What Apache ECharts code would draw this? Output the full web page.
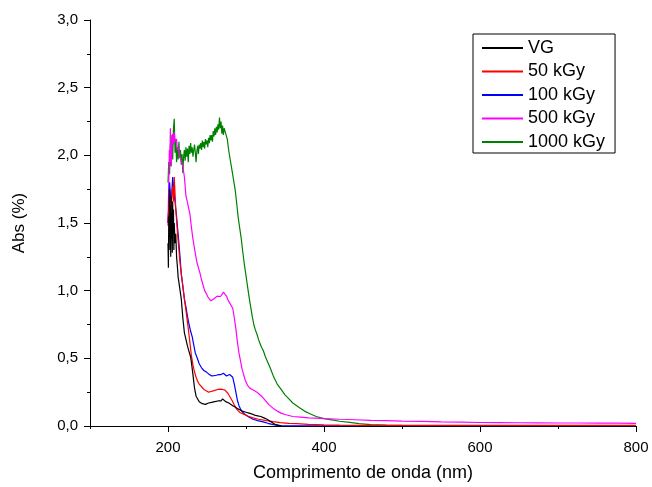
<!DOCTYPE html>
<html>
<head>
<meta charset="utf-8">
<script src="https://cdn.jsdelivr.net/npm/echarts@6/dist/echarts.min.js"></script>
<style>
html,body{margin:0;padding:0;background:#fff;}
#chart{width:652px;height:487px;}
</style>
</head>
<body>
<div id="chart"></div>
<script>
// ---- Data (wavelength nm, absorbance) ----
const seriesNames = ['VG', '50 kGy', '100 kGy', '500 kGy', '1000 kGy'];
const seriesColors = ['#000000', '#ff0000', '#0000ff', '#ff00ff', '#008000'];
const xTickLabels = [200, 400, 600, 800];
const xMinorTicks = [100, 300, 500, 700];

const vgData = [
  [200,1.35],[200.5,1.17],[201,1.55],[201.5,1.40],[202,1.75],[202.5,1.30],[203,1.62],[203.5,1.25],
  [204,1.70],[204.5,1.38],[205,1.58],[205.5,1.28],[206,1.66],[206.5,1.42],[207,1.60],[207.5,1.30],
  [208,1.50],[209,1.35],[210,1.42],[211,1.25],[212,1.18],[213,1.10],[215,1.02],[217,0.94],
  [219,0.80],[221,0.69],[223,0.64],[225,0.59],[227,0.55],[229,0.51],[230,0.47],[232,0.38],
  [234,0.28],[236,0.22],[238,0.20],[240,0.18],[242,0.17],[244,0.165],[246,0.17],[248,0.16],
  [250,0.165],[252,0.17],[254,0.165],[256,0.175],[258,0.17],[260,0.18],[262,0.175],[264,0.185],
  [266,0.19],[268,0.185],[270,0.20],[272,0.19],[274,0.18],[276,0.175],[278,0.17],[280,0.165],
  [283,0.15],[286,0.14],[289,0.13],[292,0.12],[295,0.11],[298,0.105],[301,0.10],[304,0.095],
  [307,0.09],[309,0.09],[311,0.08],[313,0.09],[315,0.075],[317,0.085],[319,0.07],[321,0.075],
  [323,0.06],[325,0.065],[327,0.05],[329,0.05],[331,0.035],[333,0.03],[335,0.02],[338,0.01],
  [340,0.005],[345,0.002]
];
const kgy50Data = [
  [200,1.48],[201,1.62],[202,1.70],[203,1.55],[204,1.60],[205,1.72],[206,1.77],[207,1.66],
  [208,1.84],[209,1.72],[210,1.60],[211,1.52],[212,1.44],[213,1.37],[215,1.23],[217,1.12],
  [219,1.04],[221,0.94],[224,0.81],[226,0.72],[228,0.62],[230,0.52],[232,0.45],[234,0.40],
  [236,0.36],[238,0.33],[240,0.31],[243,0.29],[246,0.27],[249,0.26],[252,0.25],[255,0.255],
  [258,0.26],[261,0.265],[264,0.27],[267,0.272],[270,0.27],[273,0.265],[275,0.255],[277,0.24],
  [279,0.22],[282,0.19],[285,0.155],[288,0.125],[292,0.10],[297,0.088],[303,0.072],[309,0.06],
  [316,0.05],[326,0.04],[335,0.032],[344,0.025],[355,0.02],[365,0.017],[380,0.012],[400,0.008],
  [420,0.006],[450,0.005],[500,0.004],[600,0.004],[700,0.004],[800,0.004]
];
const kgy100Data = [
  [200,1.50],[201,1.62],[202,1.80],[203,1.72],[204,1.65],[205,1.74],[206,1.84],[207,1.77],
  [208,1.70],[209,1.66],[210,1.60],[211,1.55],[212,1.48],[213,1.42],[215,1.28],[217,1.13],
  [219,1.03],[221,0.94],[223,0.88],[225,0.81],[227,0.75],[229,0.70],[231,0.66],[233,0.60],
  [235,0.54],[237,0.51],[240,0.46],[243,0.43],[246,0.41],[249,0.40],[252,0.385],[256,0.37],
  [259,0.372],[262,0.375],[265,0.38],[268,0.38],[271,0.39],[273,0.385],[275,0.37],[277,0.368],
  [279,0.38],[281,0.39],[283,0.36],[285,0.31],[287,0.25],[289,0.19],[291,0.15],[293,0.125],
  [296,0.10],[299,0.085],[304,0.065],[309,0.05],[315,0.04],[322,0.03],[328,0.02],[335,0.01],
  [343,0.003],[360,0.001],[400,0.001],[500,0.001],[600,0.001],[700,0.001],[800,0.001]
];
const kgy500Data = [
  [200,1.50],[201,1.80],[201.7,2.04],[202.5,1.95],[203,2.20],[204,1.92],[205,2.05],[206,2.16],
  [207,2.08],[208,2.17],[209,2.10],[210,2.09],[211,2.12],[212,2.04],[213,2.06],[215,1.99],
  [217,1.96],[219,1.92],[221,1.84],[223,1.70],[225,1.65],[228,1.57],[230,1.47],[232,1.38],
  [234,1.31],[237,1.21],[239,1.17],[241,1.13],[243,1.08],[245,1.04],[247,1.00],[249,0.98],
  [251,0.955],[253,0.94],[255,0.925],[257,0.92],[259,0.94],[261,0.95],[263,0.96],[265,0.95],
  [267,0.955],[269,0.97],[271,0.99],[272,1.00],[273,0.99],[275,0.96],[277,0.93],[279,0.91],
  [281,0.905],[283,0.87],[285,0.80],[287,0.72],[289,0.62],[291,0.54],[293,0.48],[295,0.42],
  [297,0.38],[299,0.34],[302,0.30],[305,0.28],[308,0.27],[311,0.26],[314,0.25],[317,0.235],
  [320,0.22],[323,0.20],[326,0.18],[329,0.16],[332,0.145],[336,0.125],[340,0.11],[345,0.095],
  [350,0.085],[360,0.07],[370,0.065],[380,0.06],[390,0.058],[400,0.055],[420,0.05],[440,0.046],
  [460,0.042],[480,0.04],[500,0.036],[525,0.034],[550,0.03],[575,0.028],[600,0.026],[625,0.025],
  [650,0.024],[675,0.023],[700,0.022],[725,0.022],[750,0.021],[775,0.021],[800,0.02]
];
const kgy1000Data = [
  [200,1.80],[201,1.95],[202,1.86],[203,2.08],[204,1.92],[205,2.15],[206,1.97],[207,2.20],
  [208,2.27],[209,2.02],[210,2.12],[211,1.95],[212,2.06],[213,1.97],[214,2.10],[215,1.98],
  [216,2.04],[217,1.93],[218,2.01],[219,1.87],[220,1.99],[221,2.04],[222,1.96],[223,2.06],
  [224,1.99],[225,2.05],[226,1.95],[227,2.07],[228,2.01],[229,2.09],[230,2.02],[231,2.06],
  [232,1.99],[233,2.04],[234,2.08],[235,2.02],[236,1.95],[237,2.03],[238,2.07],[239,2.01],
  [240,2.08],[241,2.05],[242,2.09],[243,2.04],[244,2.11],[245,2.06],[246,2.10],[247,2.05],
  [248,2.12],[249,2.08],[250,2.11],[251,2.06],[252,2.13],[253,2.09],[254,2.15],[255,2.11],
  [256,2.15],[257,2.10],[258,2.18],[259,2.14],[260,2.20],[261,2.15],[262,2.21],[263,2.17],
  [264,2.23],[265,2.19],[266,2.28],[267,2.20],[268,2.25],[269,2.16],[270,2.22],[271,2.15],
  [272,2.20],[273,2.19],[274,2.16],[276,2.12],[278,2.03],[280,1.96],[282,1.89],[284,1.82],
  [286,1.75],[288,1.65],[290,1.54],[292,1.46],[294,1.38],[296,1.28],[298,1.19],[300,1.11],
  [302,1.03],[304,0.95],[306,0.88],[308,0.81],[310,0.75],[312,0.71],[314,0.68],[316,0.64],
  [318,0.61],[320,0.58],[322,0.56],[325,0.51],[328,0.47],[331,0.43],[335,0.37],[340,0.31],
  [345,0.27],[350,0.23],[355,0.20],[360,0.17],[365,0.15],[370,0.13],[375,0.11],[382,0.09],
  [390,0.07],[400,0.055],[410,0.045],[420,0.035],[433,0.027],[445,0.018],[460,0.01],[480,0.006],
  [500,0.004],[600,0.003],[700,0.003],[800,0.003]
];
const allData = [vgData, kgy50Data, kgy100Data, kgy500Data, kgy1000Data];

const FONT = 'Arial, "Liberation Sans", sans-serif';
const chart = echarts.init(document.getElementById('chart'), null, {renderer: 'canvas'});

// Draw VG last (on top): build series in reverse order
const series = [];
for (let i = allData.length - 1; i >= 0; i--) {
  series.push({
    name: seriesNames[i],
    type: 'line',
    data: allData[i],
    showSymbol: false,
    symbol: 'none',
    color: seriesColors[i],
    lineStyle: {width: 1.2, color: seriesColors[i]},
    itemStyle: {color: seriesColors[i]},
    xAxisIndex: 0,
    yAxisIndex: 0
  });
}

const legendData = seriesNames.map((n, i) => ({
  name: n,
  icon: 'rect',
  itemStyle: {color: seriesColors[i], opacity: 1, borderWidth: 0}
}));

chart.setOption({
  animation: false,
  backgroundColor: '#ffffff',
  grid: {left: 90, right: 16, top: 20, bottom: 60, containLabel: false},
  legend: {
    data: legendData,
    orient: 'vertical',
    left: 473,
    top: 34,
    borderColor: '#000',
    borderWidth: 1,
    padding: [5, 10, 2, 9],
    itemWidth: 41,
    itemHeight: 2,
    itemGap: 5.5,
    textStyle: {fontFamily: FONT, fontSize: 18, color: '#000', lineHeight: 18}
  },
  xAxis: [{
    type: 'value',
    min: 100,
    max: 800,
    interval: 100,
    name: 'Comprimento de onda (nm)',
    nameLocation: 'middle',
    nameGap: 38,
    nameTextStyle: {fontFamily: FONT, fontSize: 18, color: '#000'},
    axisLine: {show: true, onZero: false, lineStyle: {color: '#000', width: 1}},
    axisTick: {show: true, inside: false, length: 6, customValues: xTickLabels, lineStyle: {color: '#000'}},
    axisLabel: {show: true, margin: 14, customValues: xTickLabels, fontFamily: FONT, fontSize: 15, color: '#000'},
    splitLine: {show: false}
  }, {
    type: 'value',
    min: 100,
    max: 800,
    interval: 100,
    position: 'bottom',
    axisLine: {show: false},
    axisTick: {show: true, inside: false, length: 3, customValues: xMinorTicks, lineStyle: {color: '#000'}},
    axisLabel: {show: false},
    splitLine: {show: false}
  }],
  yAxis: {
    type: 'value',
    min: 0,
    max: 3,
    interval: 0.5,
    name: 'Abs (%)',
    nameLocation: 'middle',
    nameGap: 62,
    nameTextStyle: {fontFamily: FONT, fontSize: 17, color: '#000'},
    axisLine: {show: true, onZero: false, lineStyle: {color: '#000', width: 1}},
    axisTick: {show: true, inside: false, length: 6, lineStyle: {color: '#000'}},
    minorTick: {show: true, splitNumber: 2, length: 3, lineStyle: {color: '#000'}},
    axisLabel: {
      margin: 12, fontFamily: FONT, fontSize: 15, color: '#000',
      formatter: v => v.toFixed(1).replace('.', ',')
    },
    splitLine: {show: false},
    minorSplitLine: {show: false}
  },
  series: series
});
</script>
</body>
</html>
